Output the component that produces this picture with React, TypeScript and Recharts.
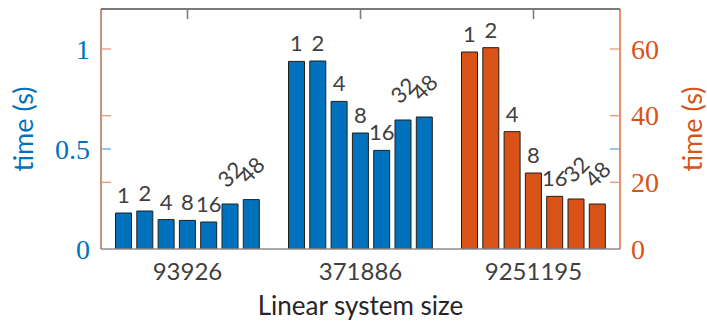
import React from 'react';
import { BarChart, Bar, XAxis, YAxis, LabelList, ReferenceLine } from 'recharts';

const categories = ['93926', '371886', '9251195'];
const threads = [1, 2, 4, 8, 16, 32, 48];
const times93926 = [0.18, 0.19, 0.147, 0.143, 0.135, 0.225, 0.247];
const times371886 = [0.938, 0.94, 0.738, 0.58, 0.493, 0.645, 0.66];
const times9251195 = [59.1, 60.4, 35.2, 22.8, 15.8, 15.0, 13.5];
const leftTicks = [0, 0.5, 1];
const rightTicks = [0, 20, 40, 60];
const rotateFrom = [32, 32, 16];
const leftMax = 1.2;
const rightMax = 72;

const BLUE = '#0072BD';
const ORANGE = '#D95319';
const BLUE_TICK = '#5fa8dc';
const ORANGE_TICK = '#e59a78';
const GREY = '#7a7a7a';
const SANS = 'Lato, "Noto Sans", sans-serif';
const SERIF = '"Liberation Serif", "DejaVu Serif", serif';
const MARGIN = { top: 9, right: 0, bottom: 0, left: 0 };

const ratio = rightMax / leftMax;
const has = (arr: number[], v: number) => arr.some((a) => Math.abs(a - v) < 1e-6);

// every tick position shown on each side (own ticks plus mirrored ticks of the other axis)
const leftAllTicks = Array.from(new Set([...leftTicks, ...rightTicks.map((v) => v / ratio)])).sort((a, b) => a - b);
const rightAllTicks = Array.from(new Set([...rightTicks, ...leftTicks.map((v) => v * ratio)])).sort((a, b) => a - b);
const topTickLen = 0.05;

const data = categories.map((name, i) => {
  const row: Record<string, any> = { name };
  threads.forEach((t, k) => {
    row[`l${t}`] = i === 0 ? times93926[k] : i === 1 ? times371886[k] : null;
    row[`r${t}`] = i === 2 ? times9251195[k] : null;
  });
  return row;
});

const LeftTick = (props: any) => {
  const { x, y, payload } = props;
  const v = payload.value;
  const axisX = x + 11;
  const showLabel = has(leftTicks, v);
  const isOrange = has(rightTicks, v * ratio);
  const color = isOrange ? ORANGE_TICK : BLUE_TICK;
  return (
    <g>
      {v > 0 && <line x1={axisX} x2={axisX + 10} y1={y} y2={y} stroke={color} strokeWidth={1.3} />}
      {showLabel && (
        <text x={x} y={y} dy="0.35em" textAnchor="end" fill={BLUE} fontSize={28} fontFamily={SERIF}>
          {v}
        </text>
      )}
    </g>
  );
};

const RightTick = (props: any) => {
  const { x, y, payload } = props;
  const v = payload.value;
  const axisX = x - 11;
  const showLabel = has(rightTicks, v);
  const color = showLabel ? ORANGE_TICK : BLUE_TICK;
  return (
    <g>
      {v > 0 && <line x1={axisX} x2={axisX - 10} y1={y} y2={y} stroke={color} strokeWidth={1.3} />}
      {showLabel && (
        <text x={x} y={y} dy="0.35em" textAnchor="start" fill={ORANGE} fontSize={28} fontFamily={SERIF}>
          {v}
        </text>
      )}
    </g>
  );
};

const makeLabel = (t: number) => (props: any) => {
  const { x, y, width, value, index } = props;
  if (value === null || value === undefined) return null;
  const cx = Number(x) + Number(width) / 2;
  const top = Number(y);
  if (t >= rotateFrom[index]) {
    const cy = top - 30;
    return (
      <text
        x={cx}
        y={cy}
        textAnchor="middle"
        dominantBaseline="central"
        transform={`rotate(-45 ${cx} ${cy})`}
        fill="#404040"
        fontSize={22}
        fontFamily={SANS}
      >
        {t}
      </text>
    );
  }
  return (
    <text x={cx} y={top - 10} textAnchor="middle" fill="#404040" fontSize={22} fontFamily={SANS}>
      {t}
    </text>
  );
};

const yLabel = (text: string, color: string, side: 'left' | 'right') => (p: any) => {
  const vb = p.viewBox || {};
  const cx = side === 'left' ? vb.x + 22 : vb.x + vb.width - 16;
  const cy = vb.y + vb.height / 2;
  return (
    <text
      x={cx}
      y={cy}
      textAnchor="middle"
      dominantBaseline="central"
      transform={`rotate(-90 ${cx} ${cy})`}
      fill={color}
      fontSize={27}
      fontFamily={SANS}
    >
      {text}
    </text>
  );
};

// x-axis label; also draws the top frame line with its inward ticks at the category centres
const xLabel = (p: any) => {
  const vb = p.viewBox || {};
  const band = vb.width / categories.length;
  const top = MARGIN.top;
  return (
    <g>
      <line x1={vb.x} x2={vb.x + vb.width} y1={top} y2={top} stroke={GREY} strokeWidth={1.8} />
      {categories.map((c, i) => (
        <line
          key={c}
          x1={vb.x + band * (i + 0.5)}
          x2={vb.x + band * (i + 0.5)}
          y1={top}
          y2={top + 10}
          stroke={GREY}
          strokeWidth={1.3}
        />
      ))}
      <text x={vb.x + vb.width / 2} y={vb.y + 66} textAnchor="middle" fill="#262626" fontSize={26} fontFamily={SANS}>
        Linear system size
      </text>
    </g>
  );
};

export default function App() {
  return (
    <div style={{ position: 'absolute', left: 0, top: 0, background: '#fff' }}>
      <BarChart width={707} height={321} data={data} margin={MARGIN} barCategoryGap={14.5} barGap={5.3}>
        <XAxis
          xAxisId="a"
          dataKey="name"
          height={72}
          tickLine={false}
          tickSize={0}
          tickMargin={14}
          axisLine={{ stroke: '#8c8c8c', strokeWidth: 1.5 }}
          tick={{ fill: '#404040', fontSize: 24, fontFamily: SANS }}
          label={{ content: xLabel }}
        />
        <XAxis xAxisId="b" dataKey="name" hide />
        <YAxis
          yAxisId="left"
          orientation="left"
          width={101}
          domain={[0, leftMax]}
          ticks={leftAllTicks}
          interval={0}
          allowDataOverflow
          tickLine={false}
          tickSize={0}
          tickMargin={11}
          axisLine={{ stroke: '#a8553a', strokeWidth: 1.3 }}
          tick={<LeftTick />}
          label={{ content: yLabel('time (s)', BLUE, 'left') }}
        />
        <YAxis
          yAxisId="right"
          orientation="right"
          width={87}
          domain={[0, rightMax]}
          ticks={rightAllTicks}
          interval={0}
          allowDataOverflow
          tickLine={false}
          tickSize={0}
          tickMargin={11}
          axisLine={{ stroke: ORANGE, strokeWidth: 1.3 }}
          tick={<RightTick />}
          label={{ content: yLabel('time (s)', ORANGE, 'right') }}
        />
        <ReferenceLine xAxisId="a" yAxisId="left" y={leftMax} stroke={GREY} strokeWidth={1.8} ifOverflow="visible" />
        {categories.map((c) => (
          <ReferenceLine
            key={`top-${c}`}
            xAxisId="a"
            yAxisId="left"
            ifOverflow="visible"
            stroke={GREY}
            strokeWidth={1.3}
            segment={[
              { x: c, y: leftMax },
              { x: c, y: leftMax - topTickLen },
            ]}
          />
        ))}
        {threads.map((t) => (
          <Bar
            key={`l${t}`}
            dataKey={`l${t}`}
            xAxisId="a"
            yAxisId="left"
            fill={BLUE}
            stroke="#1f1f1f"
            strokeWidth={1}
            isAnimationActive={false}
          >
            <LabelList dataKey={`l${t}`} content={makeLabel(t)} />
          </Bar>
        ))}
        {threads.map((t) => (
          <Bar
            key={`r${t}`}
            dataKey={`r${t}`}
            xAxisId="b"
            yAxisId="right"
            fill={ORANGE}
            stroke="#1f1f1f"
            strokeWidth={1}
            isAnimationActive={false}
          >
            <LabelList dataKey={`r${t}`} content={makeLabel(t)} />
          </Bar>
        ))}
      </BarChart>
    </div>
  );
}
